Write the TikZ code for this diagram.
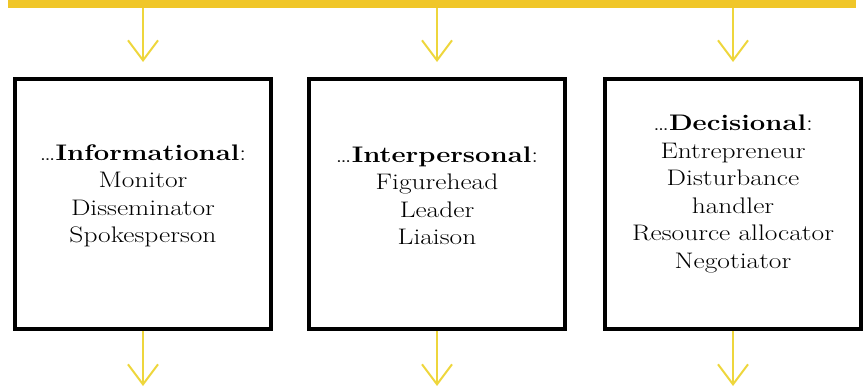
\documentclass[tikz,border=0pt]{standalone}
\usepackage{xcolor}
\usepackage{fontspec}
\setmainfont{Latin Modern Roman}[FakeStretch=1.22]
\usetikzlibrary{arrows.meta}
\usetikzlibrary{math}
\definecolor{bargold}{RGB}{240, 198, 40}
\definecolor{arrowyellow}{RGB}{238, 214, 60}

\begin{document}
\begin{tikzpicture}[x=1pt, y=-1pt,
  rolebox/.style={draw=black, line width=4, minimum width=256pt, minimum height=250pt, inner sep=0pt},
  roletext/.style={align=center, font=\fontsize{22.5}{27.5}\selectfont, inner sep=0pt},
  downarrow/.style={draw=arrowyellow, line width=2, -{Straight Barb[length=20pt, width=30pt, line width=2pt]}}
]
\tikzmath{
\ytop=8;
\ytip=62;
}
\useasboundingbox (0,0) rectangle (864,388);

% top bar
\coordinate (barL) at (8,4);
\coordinate (barR) at (856,4);
\draw[line width=7, color=bargold] (barL) -- (barR);

% the three boxes
\node[rolebox] (info) at (143,204) {};
\node[rolebox] (inter) at (437,204) {};
\node[rolebox] (dec) at (733,204) {};

\node[roletext] (infotxt) at ([yshift=8pt]info.center) {\ldots\textbf{Informational}:\\ Monitor\\ Disseminator\\ Spokesperson};
\node[roletext] (intertxt) at ([yshift=8pt]inter.center) {\ldots\textbf{Interpersonal}:\\ Figurehead\\ Leader\\ Liaison};
\node[roletext] (dectxt) at ([yshift=10pt]dec.center) {\ldots\textbf{Decisional}:\\ Entrepreneur\\ Disturbance\\ handler\\ Resource allocator\\ Negotiator};

% arrows in and out
\foreach \b in {info, inter, dec} {
  \coordinate (\b in) at (\b.north |- 0,\ytop);
  \coordinate (\b tip) at (\b.north |- 0,\ytip);
  \coordinate (\b out) at (\b.south |- 0,386);
  \draw[downarrow] (\b in) -- (\b tip);
  \draw[downarrow] (\b.south) -- (\b out);
}
\end{tikzpicture}
\end{document}
